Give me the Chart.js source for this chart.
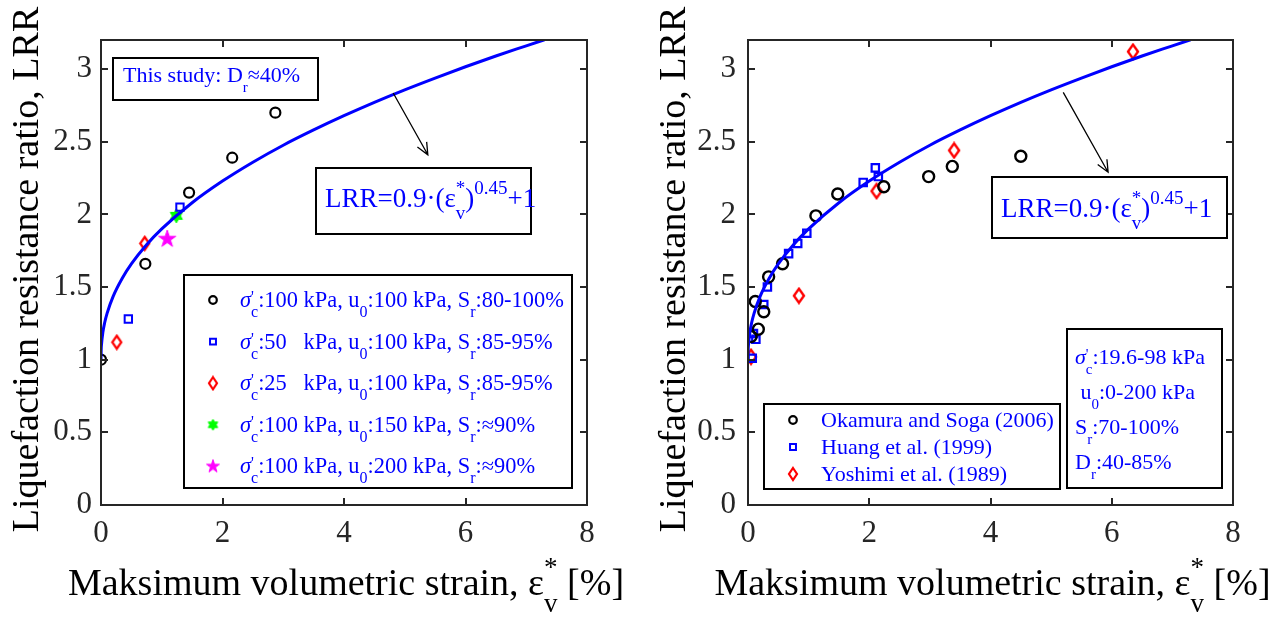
<!DOCTYPE html>
<html><head><meta charset="utf-8">
<script src="https://cdn.jsdelivr.net/npm/chart.js@4.4.0/dist/chart.umd.min.js"></script>
<style>
html,body{margin:0;padding:0;background:#fff;width:1279px;height:621px;overflow:hidden}
canvas{position:absolute;top:0}
#c1{left:0}
#c2{left:640px}
</style></head><body>
<canvas id="c1" width="640" height="621"></canvas>
<canvas id="c2" width="639" height="621"></canvas>
<script>
// ---------- data ----------
const xTicks = [0, 2, 4, 6, 8];
const xTickLabels = ['0', '2', '4', '6', '8'];
const yTicks = [0, 0.5, 1, 1.5, 2, 2.5, 3];
const yTickLabels = ['0', '0.5', '1', '1.5', '2', '2.5', '3'];

// fitted curve LRR = 0.9*(eps)^0.45 + 1
const fitX = [0, 0.003, 0.01, 0.03, 0.06, 0.1, 0.2, 0.35, 0.5, 0.75, 1, 1.5, 2, 2.5, 3, 3.5, 4, 4.5, 5, 5.5, 6, 6.5, 7, 7.3];
const fitY = [1, 1.066, 1.113, 1.186, 1.254, 1.319, 1.436, 1.561, 1.659, 1.791, 1.9, 2.080, 2.229, 2.359, 2.476, 2.581, 2.679, 2.771, 2.857, 2.938, 3.016, 3.090, 3.160, 3.202];

// left panel: this study
const L_labels = [
  "σ_{c}^{'}:100 kPa, u_{0}:100 kPa, S_{r}:80-100%",
  "σ_{c}^{'}:50   kPa, u_{0}:100 kPa, S_{r}:85-95%",
  "σ_{c}^{'}:25   kPa, u_{0}:100 kPa, S_{r}:85-95%",
  "σ_{c}^{'}:100 kPa, u_{0}:150 kPa, S_{r}:≈90%",
  "σ_{c}^{'}:100 kPa, u_{0}:200 kPa, S_{r}:≈90%"
];
const L_s100_x = [0, 0.73, 1.45, 2.16, 2.87];
const L_s100_y = [1.0, 1.66, 2.15, 2.39, 2.70];
const L_s50_x = [0.45, 1.30];
const L_s50_y = [1.28, 2.05];
const L_s25_x = [0.26, 0.72];
const L_s25_y = [1.12, 1.80];
const L_u150_x = [1.24];
const L_u150_y = [1.99];
const L_u200_x = [1.09];
const L_u200_y = [1.83];

// right panel: literature
const R_labels = ["Okamura and Soga (2006)", "Huang et al. (1999)", "Yoshimi et al. (1989)"];
const R_oka_x = [0.05, 0.17, 0.12, 0.26, 0.34, 0.57, 1.12, 1.48, 2.24, 2.98, 3.37, 4.50];
const R_oka_y = [1.16, 1.21, 1.40, 1.33, 1.57, 1.66, 1.99, 2.14, 2.19, 2.26, 2.33, 2.40];
const R_hua_x = [0.07, 0.13, 0.09, 0.26, 0.32, 0.67, 0.82, 0.97, 1.90, 2.10, 2.15];
const R_hua_y = [1.01, 1.14, 1.18, 1.38, 1.50, 1.73, 1.80, 1.87, 2.22, 2.32, 2.26];
const R_yos_x = [0.05, 0.84, 2.12, 3.40, 6.35];
const R_yos_y = [1.02, 1.44, 2.16, 2.44, 3.12];

const xTitle = "Maksimum volumetric strain, ε_{v}^{*} [%]";
const yTitle = "Liquefaction resistance ratio, LRR";
const fitText = "LRR=0.9·(ε_{v}^{*})^{0.45}+1";
const studyText = "This study: D_{r}≈40%";
const infoLines = ["σ_{c}^{'}:19.6-98 kPa", " u_{0}:0-200 kPa", "S_{r}:70-100%", "D_{r}:40-85%"];

// ---------- helpers ----------
const FAM = '"Liberation Serif","Times New Roman",serif';
const AX = '#262626';
const zip = (xs, ys) => xs.map((x, i) => ({x, y: ys[i]}));

function mk(w, h, fn) { const c = document.createElement('canvas'); c.width = w; c.height = h; fn(c.getContext('2d'), w, h); return c; }
function diamond(w, h, lw) {
  return mk(w + 4, h + 4, (x, W, H) => {
    x.strokeStyle = '#ff0000'; x.lineWidth = lw; x.lineJoin = 'miter';
    x.beginPath(); x.moveTo(W / 2, 2); x.lineTo(W - 2, H / 2); x.lineTo(W / 2, H - 2); x.lineTo(2, H / 2); x.closePath(); x.stroke();
  });
}
function star(n, R, ratio, color) {
  const s = Math.ceil(2 * R + 4);
  return mk(s, s, (x, W, H) => {
    x.fillStyle = color; x.strokeStyle = color; x.lineWidth = 1;
    x.beginPath();
    for (let k = 0; k < 2 * n; k++) {
      const a = -Math.PI / 2 + k * Math.PI / n, rr = k % 2 ? R * ratio : R;
      x.lineTo(W / 2 + rr * Math.cos(a), H / 2 + rr * Math.sin(a));
    }
    x.closePath(); x.fill(); x.stroke();
  });
}

function parseRich(s) {
  const toks = []; let i = 0, buf = '';
  const flush = () => { if (buf) { toks.push({t: 'n', s: buf}); buf = ''; } };
  const group = () => { if (s[i] === '{') { const j = s.indexOf('}', i); const g = s.slice(i + 1, j); i = j + 1; return g; } return s[i++]; };
  while (i < s.length) {
    const c = s[i];
    if (c === '_' || c === '^') {
      flush(); i++;
      let sub = null, sup = null;
      if (c === '_') sub = group(); else sup = group();
      if (s[i] === '^' && sup === null) { i++; sup = group(); }
      else if (s[i] === '_' && sub === null) { i++; sub = group(); }
      toks.push({t: 's', sub, sup});
    } else if (c === 'σ') { flush(); toks.push({t: 'i', s: c}); i++; }
    else { buf += c; i++; }
  }
  flush(); return toks;
}
function richWidth(ctx, toks, S) {
  let w = 0;
  for (const t of toks) {
    if (t.t === 'n') { ctx.font = S + 'px ' + FAM; w += ctx.measureText(t.s).width; }
    else if (t.t === 'i') { ctx.font = 'italic ' + S + 'px ' + FAM; w += ctx.measureText(t.s).width; }
    else {
      ctx.font = Math.round(S * 0.7) + 'px ' + FAM;
      w += Math.max(t.sub ? ctx.measureText(t.sub).width : 0, t.sup ? ctx.measureText(t.sup).width : 0);
    }
  }
  return w;
}
function drawRich(ctx, str, x, y, S, color, align) {
  const toks = parseRich(str);
  ctx.save(); ctx.fillStyle = color; ctx.textBaseline = 'alphabetic'; ctx.textAlign = 'left';
  if (align === 'center') x -= richWidth(ctx, toks, S) / 2;
  for (const t of toks) {
    if (t.t === 'n' || t.t === 'i') {
      ctx.font = (t.t === 'i' ? 'italic ' : '') + S + 'px ' + FAM;
      ctx.fillText(t.s, x, y); x += ctx.measureText(t.s).width;
    } else {
      const ss = Math.round(S * 0.7);
      ctx.font = ss + 'px ' + FAM;
      let w = 0;
      if (t.sub) { ctx.fillText(t.sub, x, y + S * 0.45); w = Math.max(w, ctx.measureText(t.sub).width); }
      if (t.sup) { const off = t.sup === "'" ? 0.22 : 0.5; ctx.fillText(t.sup, x, y - S * off); w = Math.max(w, ctx.measureText(t.sup).width); }
      x += w;
    }
  }
  ctx.restore();
}

// ---------- decoration plugin ----------
const deco = {
  id: 'deco',
  afterDraw(chart, args, o) {
    const ctx = chart.ctx, ca = chart.chartArea, xs = chart.scales.x, ys = chart.scales.y;
    const off = o.offset;
    const P = (px) => px - off;
    ctx.save();
    // ticks inward, mirrored
    ctx.strokeStyle = AX; ctx.lineWidth = 2;
    ctx.beginPath();
    xTicks.forEach(v => { const p = Math.round(xs.getPixelForValue(v)); ctx.moveTo(p, ca.bottom); ctx.lineTo(p, ca.bottom - 7); ctx.moveTo(p, ca.top); ctx.lineTo(p, ca.top + 7); });
    yTicks.forEach(v => { const p = Math.round(ys.getPixelForValue(v)); ctx.moveTo(ca.left, p); ctx.lineTo(ca.left + 7, p); ctx.moveTo(ca.right, p); ctx.lineTo(ca.right - 7, p); });
    ctx.stroke();
    ctx.strokeRect(ca.left, ca.top, ca.right - ca.left, ca.bottom - ca.top);

    // axis titles
    drawRich(ctx, xTitle, (ca.left + ca.right) / 2 + 2, 595, 38, '#000', 'center');
    ctx.save();
    ctx.translate(o.yTitleX, (ca.top + ca.bottom) / 2 - 3);
    ctx.rotate(-Math.PI / 2);
    ctx.font = '38px ' + FAM; ctx.fillStyle = '#000'; ctx.textAlign = 'center'; ctx.textBaseline = 'alphabetic';
    ctx.fillText(yTitle, 0, 0);
    ctx.restore();

    // arrow
    const a = o.arrow;
    const x1 = xs.getPixelForValue(a[0]), y1 = ys.getPixelForValue(a[1]);
    const x2 = xs.getPixelForValue(a[2]), y2 = ys.getPixelForValue(a[3]);
    ctx.strokeStyle = '#000'; ctx.lineWidth = 1.3;
    ctx.beginPath(); ctx.moveTo(x1, y1); ctx.lineTo(x2, y2);
    const ang = Math.atan2(y2 - y1, x2 - x1), L = 13, h = 0.42;
    ctx.moveTo(x2 - L * Math.cos(ang - h), y2 - L * Math.sin(ang - h)); ctx.lineTo(x2, y2);
    ctx.lineTo(x2 - L * Math.cos(ang + h), y2 - L * Math.sin(ang + h));
    ctx.stroke();

    // boxes
    const box = (b) => {
      ctx.fillStyle = '#fff'; ctx.fillRect(P(b[0]), b[1], b[2] - b[0], b[3] - b[1]);
      ctx.strokeStyle = '#000'; ctx.lineWidth = 2; ctx.strokeRect(P(b[0]), b[1], b[2] - b[0], b[3] - b[1]);
    };
    (o.texts || []).forEach(t => { if (t.box) box(t.box); t.lines.forEach((ln, i) => drawRich(ctx, ln, P(t.x), t.y + i * (t.dy || 0), t.size, '#0000ff')); });

    // legend
    const lg = o.legend;
    box(lg.box);
    chart.data.datasets.forEach((ds, i) => {
      if (!ds.inLegend) return;
      const cy = lg.y0 + i * lg.dy;
      ctx.strokeStyle = ds.borderColor; ctx.fillStyle = ds.legendFill || 'rgba(0,0,0,0)'; ctx.lineWidth = ds.legendBorder;
      Chart.helpers.drawPoint(ctx, {pointStyle: ds.legendStyle, radius: ds.legendRadius, rotation: 0, borderWidth: ds.legendBorder}, P(lg.mx), cy);
      drawRich(ctx, ds.label, P(lg.tx), cy + 7, lg.size, '#0000ff');
    });
    ctx.restore();
  }
};

function scales(yAxisWidth, ypad) {
  return {
    x: {
      type: 'linear', min: 0, max: 8,
      afterBuildTicks: s => { s.ticks = xTicks.map(v => ({value: v})); },
      afterFit: s => { s.height = 116; },
      grid: {display: false, drawTicks: false}, border: {display: false},
      ticks: {padding: 10, color: AX, font: {family: FAM, size: 31}, maxRotation: 0,
        callback: (v) => xTickLabels[xTicks.indexOf(v)]}
    },
    y: {
      type: 'linear', min: 0, max: 3.2,
      afterBuildTicks: s => { s.ticks = yTicks.map(v => ({value: v})); },
      afterFit: s => { s.width = yAxisWidth; },
      grid: {display: false, drawTicks: false}, border: {display: false},
      ticks: {padding: ypad, color: AX, font: {family: FAM, size: 31},
        callback: (v) => yTickLabels[yTicks.indexOf(v)]}
    }
  };
}
const fitDataset = () => ({type: 'line', label: 'fit', data: zip(fitX, fitY), borderColor: '#0000ff', borderWidth: 3,
  pointRadius: 0, fill: false, cubicInterpolationMode: 'monotone', order: 0, inLegend: false});

// ---------- left chart ----------
new Chart(document.getElementById('c1'), {
  type: 'scatter',
  data: {datasets: [
    {label: L_labels[0], data: zip(L_s100_x, L_s100_y), pointStyle: 'circle', pointRadius: 5, pointBorderWidth: 2.2,
      borderColor: '#000', backgroundColor: 'rgba(0,0,0,0)', inLegend: true, legendStyle: 'circle', legendRadius: 3.8, legendBorder: 2.2, order: 1},
    {label: L_labels[1], data: zip(L_s50_x, L_s50_y), pointStyle: 'rect', pointRadius: 5.2, pointBorderWidth: 2,
      borderColor: '#0000ff', backgroundColor: 'rgba(0,0,0,0)', inLegend: true, legendStyle: 'rect', legendRadius: 4.2, legendBorder: 2, order: 1},
    {label: L_labels[2], data: zip(L_s25_x, L_s25_y), pointStyle: diamond(9, 13, 2.2), pointRadius: 6,
      borderColor: '#ff0000', backgroundColor: 'rgba(0,0,0,0)', inLegend: true, legendStyle: diamond(8, 12, 2.2), legendRadius: 5, legendBorder: 2, order: 1},
    {label: L_labels[3], data: zip(L_u150_x, L_u150_y), pointStyle: star(6, 7, 0.577, '#00ff00'), pointRadius: 7,
      borderColor: '#00ff00', backgroundColor: '#00ff00', inLegend: true, legendStyle: star(6, 5.5, 0.577, '#00ff00'), legendRadius: 5, legendBorder: 1, order: 1},
    {label: L_labels[4], data: zip(L_u200_x, L_u200_y), pointStyle: star(5, 9, 0.382, '#ff00ff'), pointRadius: 8,
      borderColor: '#ff00ff', backgroundColor: '#ff00ff', inLegend: true, legendStyle: star(5, 6.8, 0.382, '#ff00ff'), legendRadius: 6, legendBorder: 1, order: 1},
    fitDataset()
  ]},
  options: {
    responsive: false, animation: false, devicePixelRatio: 1,
    layout: {padding: {top: 40, right: 53, left: 0, bottom: 0}},
    scales: scales(101, 9),
    plugins: {
      legend: {display: false}, tooltip: {enabled: false},
      deco: {
        offset: 0, yTitleX: 38,
        arrow: [4.81, 2.835, 5.38, 2.41],
        texts: [
          {box: [113, 58, 318, 100], x: 123, y: 82, size: 22, lines: [studyText]},
          {box: [316, 168, 531, 234], x: 325, y: 207, size: 27, lines: [fitText]}
        ],
        legend: {box: [184, 275, 572, 488], y0: 300, dy: 41.6, mx: 213, tx: 240, size: 22.4}
      }
    }
  },
  plugins: [deco]
});

// ---------- right chart ----------
new Chart(document.getElementById('c2'), {
  type: 'scatter',
  data: {datasets: [
    {label: R_labels[0], data: zip(R_oka_x, R_oka_y), pointStyle: 'circle', pointRadius: 5.5, pointBorderWidth: 2.4,
      borderColor: '#000', backgroundColor: 'rgba(0,0,0,0)', inLegend: true, legendStyle: 'circle', legendRadius: 3.8, legendBorder: 2.2, order: 1},
    {label: R_labels[1], data: zip(R_hua_x, R_hua_y), pointStyle: 'rect', pointRadius: 5.2, pointBorderWidth: 2.2,
      borderColor: '#0000ff', backgroundColor: 'rgba(0,0,0,0)', inLegend: true, legendStyle: 'rect', legendRadius: 4.2, legendBorder: 2, order: 1},
    {label: R_labels[2], data: zip(R_yos_x, R_yos_y), pointStyle: diamond(10, 14, 2.4), pointRadius: 6,
      borderColor: '#ff0000', backgroundColor: 'rgba(0,0,0,0)', inLegend: true, legendStyle: diamond(8, 12, 2.2), legendRadius: 5, legendBorder: 2, order: 1},
    fitDataset()
  ]},
  options: {
    responsive: false, animation: false, devicePixelRatio: 1,
    layout: {padding: {top: 40, right: 46, left: 0, bottom: 0}},
    scales: scales(108, 12),
    plugins: {
      legend: {display: false}, tooltip: {enabled: false},
      deco: {
        offset: 640, yTitleX: 45,
        arrow: [5.20, 2.84, 5.94, 2.29],
        texts: [
          {box: [992, 177, 1227, 238], x: 1001, y: 217, size: 27, lines: [fitText]},
          {box: [1067, 329, 1222, 488], x: 1075, y: 364, dy: 35, size: 22, lines: infoLines}
        ],
        legend: {box: [764, 404, 1060, 489], y0: 420, dy: 27, mx: 793, tx: 821, size: 22}
      }
    }
  },
  plugins: [deco]
});
</script>
</body></html>
